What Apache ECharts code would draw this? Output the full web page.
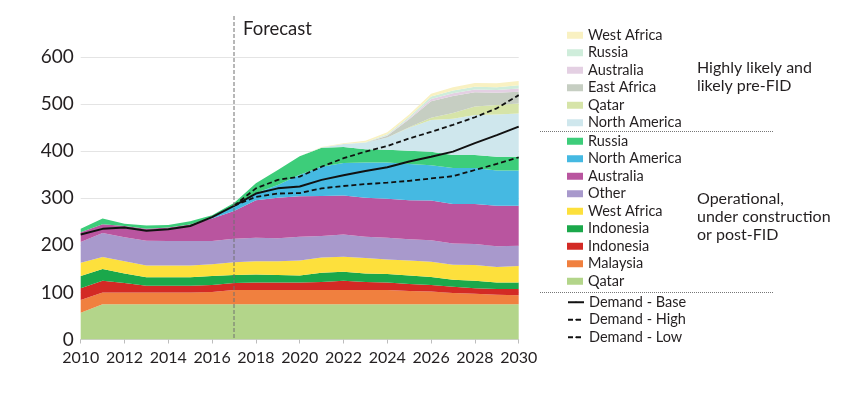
<!DOCTYPE html>
<html>
<head>
<meta charset="utf-8">
<script src="https://cdn.jsdelivr.net/npm/echarts@6/dist/echarts.min.js"></script>
<style>
html,body{margin:0;padding:0;background:#fff;}
#chart{width:850px;height:394px;}
</style>
</head>
<body>
<div id="chart"></div>
<script>
// ---------- data ----------
const years = ['2010','2011','2012','2013','2014','2015','2016','2017','2018','2019','2020','2021','2022','2023','2024','2025','2026','2027','2028','2029','2030'];
const yTicks = [0,100,200,300,400,500,600];
const forecastYear = '2017';

// Operational, under construction or post-FID
const qatar        = [57,75,75,75,75,75,75,75,75,75,75,75,75,75,75,75,75,75,75,75,75];
const malaysia     = [27,25,25,25,25,25,26,30,30,30,30,30,30,30,30,28,27,24,22,20,19];
const indonesiaRed = [25,25,20,14,14,14,15,15,16,16,16,17,20,17,16,15,14,13,12,12,13];
const indonesiaGrn = [26,25,20,18,18,18,19,17,17,16,15,20,19,18,18,18,17,15,16,14,14];
const westAfrica   = [28,25,26,25,25,25,25,27,28,29,32,32,32,33,31,32,32,32,33,33,35];
const other        = [44,51,51,53,52,52,49,50,50,49,50,46,47,45,46,45,46,45,45,44,43];
const australia    = [21,19,24,25,29,35,48,59,80,86,86,85,83,83,83,83,84,84,85,86,85];
const northAmerica = [0,0,0,0,0,0,2,12,15,27,46,62,69,75,77,77,75,76,76,75,75];
const russia       = [7,12,5,7,5,7,5,5,21,32,39,40,34,28,27,28,29,28,28,29,29];

// Highly likely and likely pre-FID
const northAmericaPre = [0,0,0,0,0,0,0,0,0,0,0,1,6,14,26,49,67,77,85,90,92];
const qatarPre        = [0,0,0,0,0,0,0,0,0,0,0,0,0,0,0,1,5,12,18,20,21];
const eastAfricaPre   = [0,0,0,0,0,0,0,0,0,0,0,0,0,0,4,17,35,36,30,26,25];
const australiaPre    = [0,0,0,0,0,0,0,0,0,0,0,0,0,0,1,2,5,6,6,6,7];
const russiaPre       = [0,0,0,0,0,0,0,0,0,0,0,0,0,1,2,3,5,6,6,6,7];
const westAfricaPre   = [0,0,0,0,0,0,0,0,0,0,0,1,2,3,4,5,6,7,8,8,9];

// Demand scenarios
const demandBase = [223,235,238,231,234,241,260,284,310,321,325,339,349,358,366,378,388,399,417,434,452];
const demandHigh = [null,null,null,null,null,null,null,284,321,339,346,367,385,399,411,427,441,456,472,491,519];
const demandLow  = [null,null,null,null,null,null,null,284,303,310,311,321,326,330,333,337,342,347,360,373,387];

// ---------- styling ----------
const FONT = 'Lato';
const TXT = '#231f20';

const areaDefs = [
  ['Qatar', qatar, '#b3d58a'],
  ['Malaysia', malaysia, '#f0803f'],
  ['Indonesia (red)', indonesiaRed, '#d32a25'],
  ['Indonesia (green)', indonesiaGrn, '#1ba84b'],
  ['West Africa', westAfrica, '#fde03c'],
  ['Other', other, '#a899cc'],
  ['Australia', australia, '#b9559f'],
  ['North America', northAmerica, '#45b9e2'],
  ['Russia', russia, '#3dcd7a'],
  ['North America (pre-FID)', northAmericaPre, '#cfe7ed'],
  ['Qatar (pre-FID)', qatarPre, '#d6e4a8'],
  ['East Africa (pre-FID)', eastAfricaPre, '#c6cec2'],
  ['Australia (pre-FID)', australiaPre, '#e4d0e3'],
  ['Russia (pre-FID)', russiaPre, '#cfeddb'],
  ['West Africa (pre-FID)', westAfricaPre, '#f9f1c2']
];

const series = areaDefs.map(([name, data, color]) => ({
  name, type: 'line', stack: 'supply', data,
  symbol: 'none', smooth: false,
  lineStyle: {width: 0, color},
  itemStyle: {color},
  areaStyle: {color, opacity: 1},
  emphasis: {disabled: true},
  z: 2
}));

const lineDefs = [
  ['Demand - Base', demandBase, 'solid', 2],
  ['Demand - High', demandHigh, [5,3], 1.8],
  ['Demand - Low', demandLow, [5,3], 1.8]
];
lineDefs.forEach(([name, data, type, w]) => {
  series.push({
    name, type: 'line', data, symbol: 'none', smooth: false,
    lineStyle: {color: '#111', width: w, type},
    itemStyle: {color: '#111'},
    emphasis: {disabled: true},
    z: 5
  });
});

const legendCommon = {
  orient: 'vertical', left: 567, padding: 0, itemGap: 0, itemWidth: 16, itemHeight: 7,
  selectedMode: false,
  textStyle: {fontFamily: FONT, fontSize: 14.5, color: TXT, lineHeight: 17.5},
  formatter: n => n.replace(/ \(.*\)$/, '')
};

const chart = echarts.init(document.getElementById('chart'), null, {renderer: 'canvas'});
chart.setOption({
  animation: false,
  backgroundColor: '#fff',
  grid: {left: 80.7, right: 331.3, top: 57, bottom: 54.5, containLabel: false},
  xAxis: {
    type: 'category', data: years, boundaryGap: false,
    axisLine: {show: true, lineStyle: {color: '#cfcfcf'}},
    axisTick: {show: true, interval: 1, length: 4, lineStyle: {color: '#bdbdbd'}},
    axisLabel: {interval: 1, fontFamily: FONT, fontSize: 16, color: TXT, margin: 10},
    splitLine: {show: false}
  },
  yAxis: {
    type: 'value', min: yTicks[0], max: yTicks[yTicks.length-1], interval: 100,
    axisLine: {show: false}, axisTick: {show: false},
    axisLabel: {fontFamily: FONT, fontSize: 19, color: TXT, margin: 7},
    splitLine: {show: true, lineStyle: {color: '#e4e4e4', width: 1}}
  },
  legend: [
    Object.assign({}, legendCommon, {top: 26.5, icon: 'rect',
      data: ['West Africa (pre-FID)','Russia (pre-FID)','Australia (pre-FID)','East Africa (pre-FID)','Qatar (pre-FID)','North America (pre-FID)']}),
    Object.assign({}, legendCommon, {top: 132.5, icon: 'rect',
      data: ['Russia','North America','Australia','Other','West Africa','Indonesia (green)','Indonesia (red)','Malaysia','Qatar']}),
    Object.assign({}, legendCommon, {top: 293.5, itemHeight: 2,
      data: ['Demand - Base','Demand - High','Demand - Low']})
  ],
  series
});

// forecast divider & annotations
const fx = chart.convertToPixel({xAxisIndex: 0}, forecastYear);
const y0 = chart.convertToPixel({yAxisIndex: 0}, 0);
chart.setOption({
  graphic: [
    {type: 'line', z: 10, shape: {x1: fx, y1: 16, x2: fx, y2: y0},
      style: {stroke: '#707070', lineWidth: 1, lineDash: [4, 2]}},
    {type: 'text', z: 10, left: fx + 9, top: 20,
      style: {text: 'Forecast', fontFamily: FONT, fontSize: 18.5, fill: TXT}},
    {type: 'line', shape: {x1: 540, y1: 131.5, x2: 774, y2: 131.5},
      style: {stroke: '#777', lineWidth: 1, lineDash: [1, 1]}},
    {type: 'line', shape: {x1: 540, y1: 292.5, x2: 774, y2: 292.5},
      style: {stroke: '#777', lineWidth: 1, lineDash: [1, 1]}},
    {type: 'text', left: 697, top: 58.5,
      style: {text: 'Highly likely and\nlikely pre-FID', fontFamily: FONT, fontSize: 16, lineHeight: 18, fill: TXT}},
    {type: 'text', left: 697, top: 189.5,
      style: {text: 'Operational,\nunder construction\nor post-FID', fontFamily: FONT, fontSize: 16, lineHeight: 18, fill: TXT}}
  ]
});
</script>
</body>
</html>
